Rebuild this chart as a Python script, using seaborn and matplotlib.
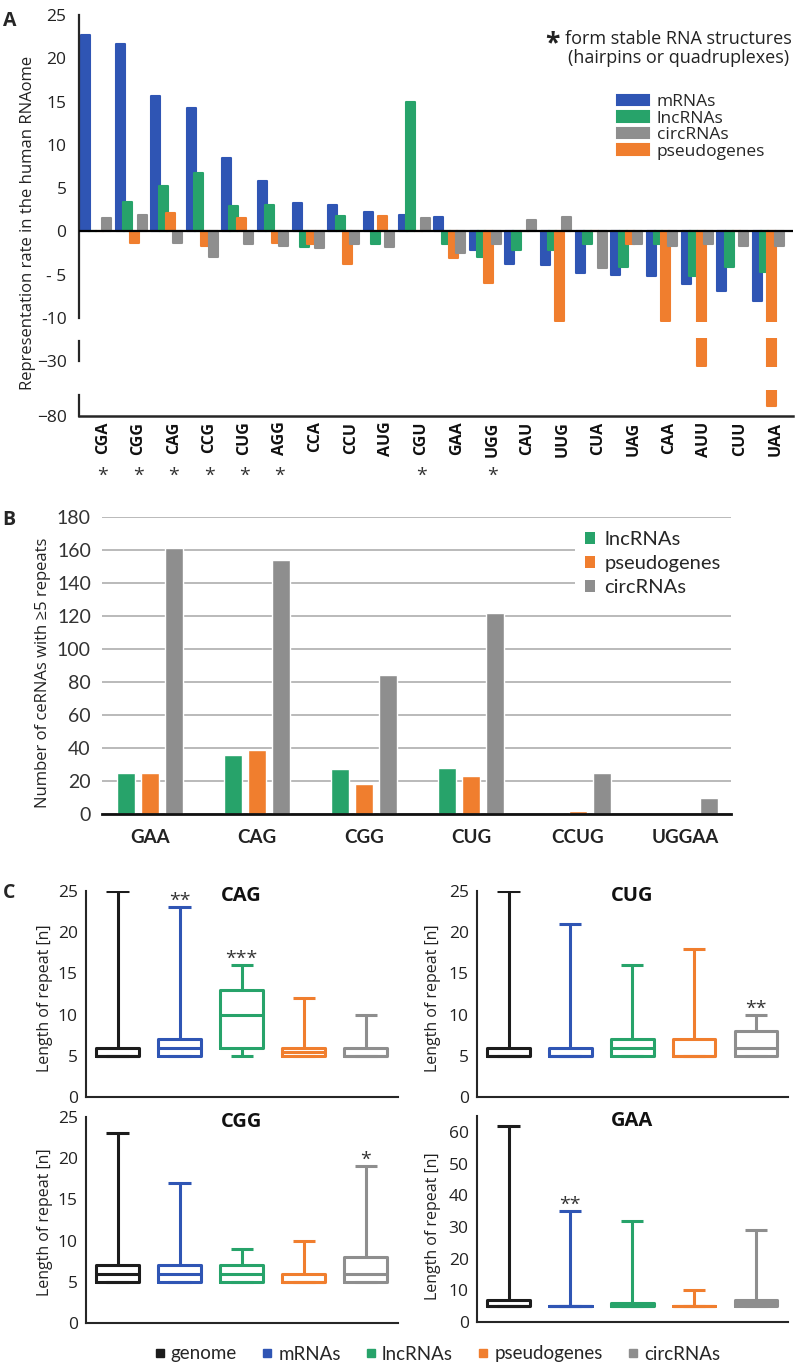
import numpy as np
import pandas as pd
import matplotlib
matplotlib.use("Agg")
import matplotlib.pyplot as plt
import matplotlib.transforms as mtransforms
from matplotlib.patches import Patch
from matplotlib.lines import Line2D
from matplotlib.ticker import MultipleLocator
import seaborn as sns

# ---------------- data ----------------
# panel A: representation rate
codons = ['CGA', 'CGG', 'CAG', 'CCG', 'CUG', 'AGG', 'CCA', 'CCU', 'AUG', 'CGU',
          'GAA', 'UGG', 'CAU', 'UUG', 'CUA', 'UAG', 'CAA', 'AUU', 'CUU', 'UAA']
structured = ['CGA', 'CGG', 'CAG', 'CCG', 'CUG', 'AGG', 'CGU', 'UGG']
mrna_rate = [22.7, 21.6, 15.7, 14.2, 8.5, 5.8, 3.3, 3.0, 2.2, 1.9,
             1.7, -2.1, -3.8, -3.9, -4.8, -5.0, -5.2, -6.1, -6.9, -8.0]
lnc_rate = [0, 3.4, 5.3, 6.8, 2.9, 3.1, -1.8, 1.8, -1.4, 15.0,
            -1.5, -3.0, -2.1, -2.1, -1.4, -4.1, -1.4, -5.1, -4.1, -4.7]
pseudo_rate = [0, -1.3, 2.1, -1.7, 1.5, -1.3, -1.4, -3.8, 1.8, 0,
               -3.1, -6.0, 0, -10.3, 0, -1.4, -10.3, -30.8, 0, -78.0]
circ_rate = [1.5, 1.9, -1.3, -3.0, -1.5, -1.7, -1.9, -1.5, -1.8, 1.6,
             -2.5, -1.5, 1.3, 1.7, -4.2, -1.4, -1.7, -1.4, -1.7, -1.7]

# panel B: number of ceRNAs with >=5 repeats
b_repeats = ['GAA', 'CAG', 'CGG', 'CUG', 'CCUG', 'UGGAA']
b_lnc = [25, 36, 27, 28, 0, 0]
b_pseudo = [25, 39, 18, 23, 2, 0]
b_circ = [161, 154, 84, 122, 25, 10]

# panel C: box stats (whislo, q1, med, q3, whishi) for genome, mRNAs, lncRNAs, pseudogenes, circRNAs
c_groups = ['genome', 'mRNAs', 'lncRNAs', 'pseudogenes', 'circRNAs']
cag_stats = [[5, 5, 5, 6, 25], [5, 5, 6, 7, 23], [5, 6, 10, 13, 16], [5, 5, 5.5, 6, 12], [5, 5, 5, 6, 10]]
cug_stats = [[5, 5, 5, 6, 25], [5, 5, 5, 6, 21], [5, 5, 6, 7, 16], [5, 5, 5, 7, 18], [5, 5, 6, 8, 10]]
cgg_stats = [[5, 5, 6, 7, 23], [5, 5, 6, 7, 17], [5, 5, 6, 7, 9], [5, 5, 5, 6, 10], [5, 5, 6, 8, 19]]
gaa_stats = [[5, 5, 5, 7, 62], [5, 5, 5, 5, 35], [5, 5, 5, 6, 32], [5, 5, 5, 5, 10], [5, 5, 6, 7, 29]]
cag_stars = {1: '**', 2: '***'}
cug_stars = {4: '**'}
cgg_stars = {4: '*'}
gaa_stars = {1: '**'}

BLUE, GREEN, ORANGE, GRAY, BLACK = '#2f55b4', '#27a36a', '#f07e2e', '#8e8e8e', '#1c1c1c'

sns.set_style("white")
plt.rcParams['font.family'] = ['Open Sans', 'DejaVu Sans']
plt.rcParams['axes.linewidth'] = 1.5

fig = plt.figure(figsize=(8, 13.67), dpi=100)
W, H = 800, 1367


def fy(y):
    return 1 - y / H


# ---------------- panel A ----------------
a_types = ['mRNAs', 'lncRNAs', 'pseudogenes', 'circRNAs']
a_colors = [BLUE, GREEN, ORANGE, GRAY]
df_a = pd.DataFrame({
    'codon': codons * 4,
    'type': sum([[t] * len(codons) for t in a_types], []),
    'rate': mrna_rate + lnc_rate + pseudo_rate + circ_rate,
})

ax_top = fig.add_axes([79 / W, fy(322.3), 714 / W, (322.3 - 15) / H])
ax_mid = fig.add_axes([79 / W, fy(367), 714 / W, 29 / H])
ax_bot = fig.add_axes([79 / W, fy(416), 714 / W, 26 / H])

for ax in (ax_top, ax_mid, ax_bot):
    sns.barplot(data=df_a, x='codon', y='rate', hue='type', order=codons,
                hue_order=a_types, palette=a_colors, width=0.82, saturation=1,
                errorbar=None, legend=False, ax=ax)
    for p in ax.patches:
        x, w = p.get_x(), p.get_width()
        p.set_x(x - 0.12 * w)
        p.set_width(1.24 * w)
        p.set_edgecolor(p.get_facecolor())
        p.set_linewidth(1.5)
        p.set_joinstyle('round')
    ax.set_xlim(-0.48, 19.7)
    ax.set_xlabel('')
    ax.set_ylabel('')
    for s in ['top', 'right']:
        ax.spines[s].set_visible(False)
    ax.spines['left'].set_linewidth(1.6)
    ax.tick_params(axis='y', length=8, width=1.6, pad=1, labelsize=12.5, colors='#222222')
    ax.tick_params(axis='y', which='minor', length=6, width=1.6, direction='inout')

ax_top.set_ylim(-10.5, 25)
ax_top.spines['left'].set_bounds(-10, 25)
ax_top.set_yticks([25, 20, 15, 10, 5, 0, -5, -10])
ax_top.set_yticklabels(['25', '20', '15', '10', '5', '0', '- 5', '-10'])
ax_top.axhline(0, color='black', lw=1.6, zorder=5)

ax_mid.set_ylim(-31, -26)
ax_mid.spines['left'].set_bounds(-30, -26.6)
ax_mid.set_yticks([-30])
ax_mid.set_yticks([-26.6], minor=True)

ax_bot.set_ylim(-80, -75)
ax_bot.spines['left'].set_bounds(-80, -76)
ax_bot.set_yticks([-80])
ax_bot.set_yticks([-76], minor=True)

for ax in (ax_top, ax_mid):
    ax.spines['bottom'].set_visible(False)
    ax.set_xticks([])
ax_bot.spines['bottom'].set_linewidth(1.8)
ax_bot.tick_params(axis='x', length=0, pad=4)
shift = mtransforms.ScaledTranslation(7 / 100, 0, fig.dpi_scale_trans)
for lab in ax_bot.get_xticklabels():
    lab.set_rotation(90)
    lab.set_fontweight('bold')
    lab.set_fontsize(11.5)
    lab.set_color('#111111')
    lab.set_transform(lab.get_transform() + shift)

star_tr = mtransforms.blended_transform_factory(ax_bot.transData, fig.transFigure) + shift
for i, c in enumerate(codons):
    if c in structured:
        ax_bot.text(i, fy(476), '*', transform=star_tr, ha='center', va='center',
                    fontsize=14, color='#333333')

fig.text(28 / W, fy(223), 'Representation rate in the human RNAome', rotation=90,
         ha='center', va='center', fontsize=12, color='#222222')
fig.text(10 / W, fy(21), 'A', fontsize=14, fontweight='bold', ha='center', va='center')

fig.text(792 / W, fy(39), 'form stable RNA structures', ha='right', va='center', fontsize=13,
         color='#222222')
fig.text(552 / W, fy(44), '*', ha='center', va='center', fontsize=19, fontweight='bold',
         color='#222222')
fig.text(789 / W, fy(58), '(hairpins or quadruplexes)', ha='right', va='center', fontsize=13,
         color='#222222')

leg_order = ['mRNAs', 'lncRNAs', 'circRNAs', 'pseudogenes']
leg_colors = dict(zip(a_types, a_colors))
handles = [Patch(facecolor=leg_colors[t], edgecolor=leg_colors[t], lw=1.5, joinstyle='round')
           for t in leg_order]
fig.legend(handles, leg_order, loc='upper left', bbox_to_anchor=(617 / W, fy(94)),
           frameon=False, fontsize=12.5, borderpad=0, borderaxespad=0,
           handlelength=1.85, handleheight=0.55, handletextpad=0.45, labelspacing=0.03)

# ---------------- panel B ----------------
b_types = ['lncRNAs', 'pseudogenes', 'circRNAs']
df_b = pd.DataFrame({
    'repeat': b_repeats * 3,
    'type': sum([[t] * len(b_repeats) for t in b_types], []),
    'count': b_lnc + b_pseudo + b_circ,
})
ax_b = fig.add_axes([102 / W, fy(814), 629 / W, 297 / H])
sns.barplot(data=df_b, x='repeat', y='count', hue='type', order=b_repeats, hue_order=b_types,
            palette=[GREEN, ORANGE, GRAY], width=0.673, saturation=1, errorbar=None,
            legend=False, ax=ax_b, zorder=3)
for p in ax_b.patches:
    x, w = p.get_x(), p.get_width()
    p.set_x(x + 0.115 * w)
    p.set_width(0.77 * w)
ax_b.set_xlim(-0.45, 5.43)
ax_b.set_ylim(0, 180)
ax_b.set_yticks(range(0, 181, 20))
ax_b.yaxis.grid(True, color='#b4b4b4', lw=1.3, zorder=0)
ax_b.set_axisbelow(True)
for s in ['top', 'right', 'left']:
    ax_b.spines[s].set_visible(False)
ax_b.spines['bottom'].set_linewidth(2)
ax_b.spines['bottom'].set_color('#111111')
ax_b.spines['bottom'].set_zorder(4)
ax_b.set_xlabel('')
ax_b.set_ylabel('')
ax_b.tick_params(axis='y', length=0, pad=8, labelsize=14)
ax_b.tick_params(axis='x', length=0, pad=11)
for lab in ax_b.get_yticklabels():
    lab.set_family(['Lato', 'DejaVu Sans'])
    lab.set_color('#333333')
for lab in ax_b.get_xticklabels():
    lab.set_family(['Lato', 'DejaVu Sans'])
    lab.set_fontweight('bold')
    lab.set_fontsize(13.5)
    lab.set_color('#222222')
b_handles = [Patch(facecolor=c, edgecolor='none') for c in [GREEN, ORANGE, GRAY]]
leg_b = ax_b.legend(b_handles, b_types, loc='upper left', bbox_to_anchor=(575 / W, fy(521)),
                    bbox_transform=fig.transFigure, frameon=True, fancybox=False,
                    borderpad=0.5, borderaxespad=0, handlelength=0.5,
                    handleheight=0.5, handletextpad=0.45, labelspacing=0.35,
                    prop={'family': ['Lato', 'DejaVu Sans'], 'size': 14.5})
leg_b.get_frame().set_facecolor('white')
leg_b.get_frame().set_edgecolor('none')
leg_b.get_frame().set_alpha(1)
leg_b.set_zorder(10)
fig.text(43 / W, fy(673), 'Number of ceRNAs with \u22655 repeats', rotation=90,
         ha='center', va='center', fontsize=12, color='#222222')
fig.text(9 / W, fy(520), 'B', fontsize=14, fontweight='bold', ha='center', va='center')

# ---------------- panel C ----------------
c_colors = [BLACK, BLUE, GREEN, ORANGE, GRAY]
panels = [
    ('CAG', cag_stats, cag_stars, 86, 891, 1097, 312, 25, 45, 998),
    ('CUG', cug_stats, cug_stars, 477, 891, 1097, 311, 25, 433, 998),
    ('CGG', cgg_stats, cgg_stars, 86, 1117, 1323, 312, 25, 45, 1222),
    ('GAA', gaa_stats, gaa_stars, 477, 1116, 1322, 311, 65, 433, 1226),
]
for title, stats, stars, x0, ytop, ybot, wpx, ymax, lx, ly in panels:
    ax = fig.add_axes([x0 / W, fy(ybot), wpx / W, (ybot - ytop) / H])
    bstats = [dict(whislo=s[0], q1=s[1], med=s[2], q3=s[3], whishi=s[4], fliers=[], label=g)
              for s, g in zip(stats, c_groups)]
    res = ax.bxp(bstats, positions=range(1, 6), widths=0.69, capwidths=0.36,
                 showfliers=False, manage_ticks=False)
    for i, col in enumerate(c_colors):
        res['boxes'][i].set(color=col, lw=2.2)
        res['medians'][i].set(color=col, lw=2.2)
        for art in res['whiskers'][2 * i:2 * i + 2] + res['caps'][2 * i:2 * i + 2]:
            art.set(color=col, lw=2.2, solid_capstyle='butt')
    for i, txt in stars.items():
        ax.annotate(txt, (i + 1, stats[i][4]), xytext=(0, 4.5), textcoords='offset points',
                    ha='center', va='center', fontsize=14, color='#333333')
    ax.set_xlim(0.49, 5.52)
    ax.set_ylim(0, ymax)
    if ymax == 65:
        ax.set_yticks(range(0, 61, 10))
        ax.yaxis.set_minor_locator(MultipleLocator(5))
    else:
        ax.set_yticks(range(0, 26, 5))
    ax.set_xticks([])
    for s in ['top', 'right']:
        ax.spines[s].set_visible(False)
    ax.spines['left'].set_linewidth(1.5)
    ax.spines['bottom'].set_linewidth(1.5)
    ax.tick_params(axis='y', which='both', length=5, width=1.5, pad=1, labelsize=12.5,
                   colors='#222222')
    ax.text(3, ymax * 0.975, title, ha='center', va='center', fontsize=14.5, fontweight='bold',
            color='#111111')
    fig.text(lx / W, fy(ly), 'Length of repeat [n]', rotation=90, ha='center', va='center',
             fontsize=11.5, color='#222222')
fig.text(9 / W, fy(893), 'C', fontsize=14, fontweight='bold', ha='center', va='center')

c_handles = [Line2D([], [], marker='s', color=c, linestyle='none', markersize=6) for c in c_colors]
fig.legend(c_handles, c_groups, loc='center', bbox_to_anchor=(437 / W, fy(1354)), ncol=5,
           frameon=False, handlelength=0.6, handletextpad=0.3, columnspacing=1.3,
           borderpad=0, prop={'family': ['Lato', 'DejaVu Sans'], 'size': 13.5})

fig.savefig('out.png', dpi=100)
